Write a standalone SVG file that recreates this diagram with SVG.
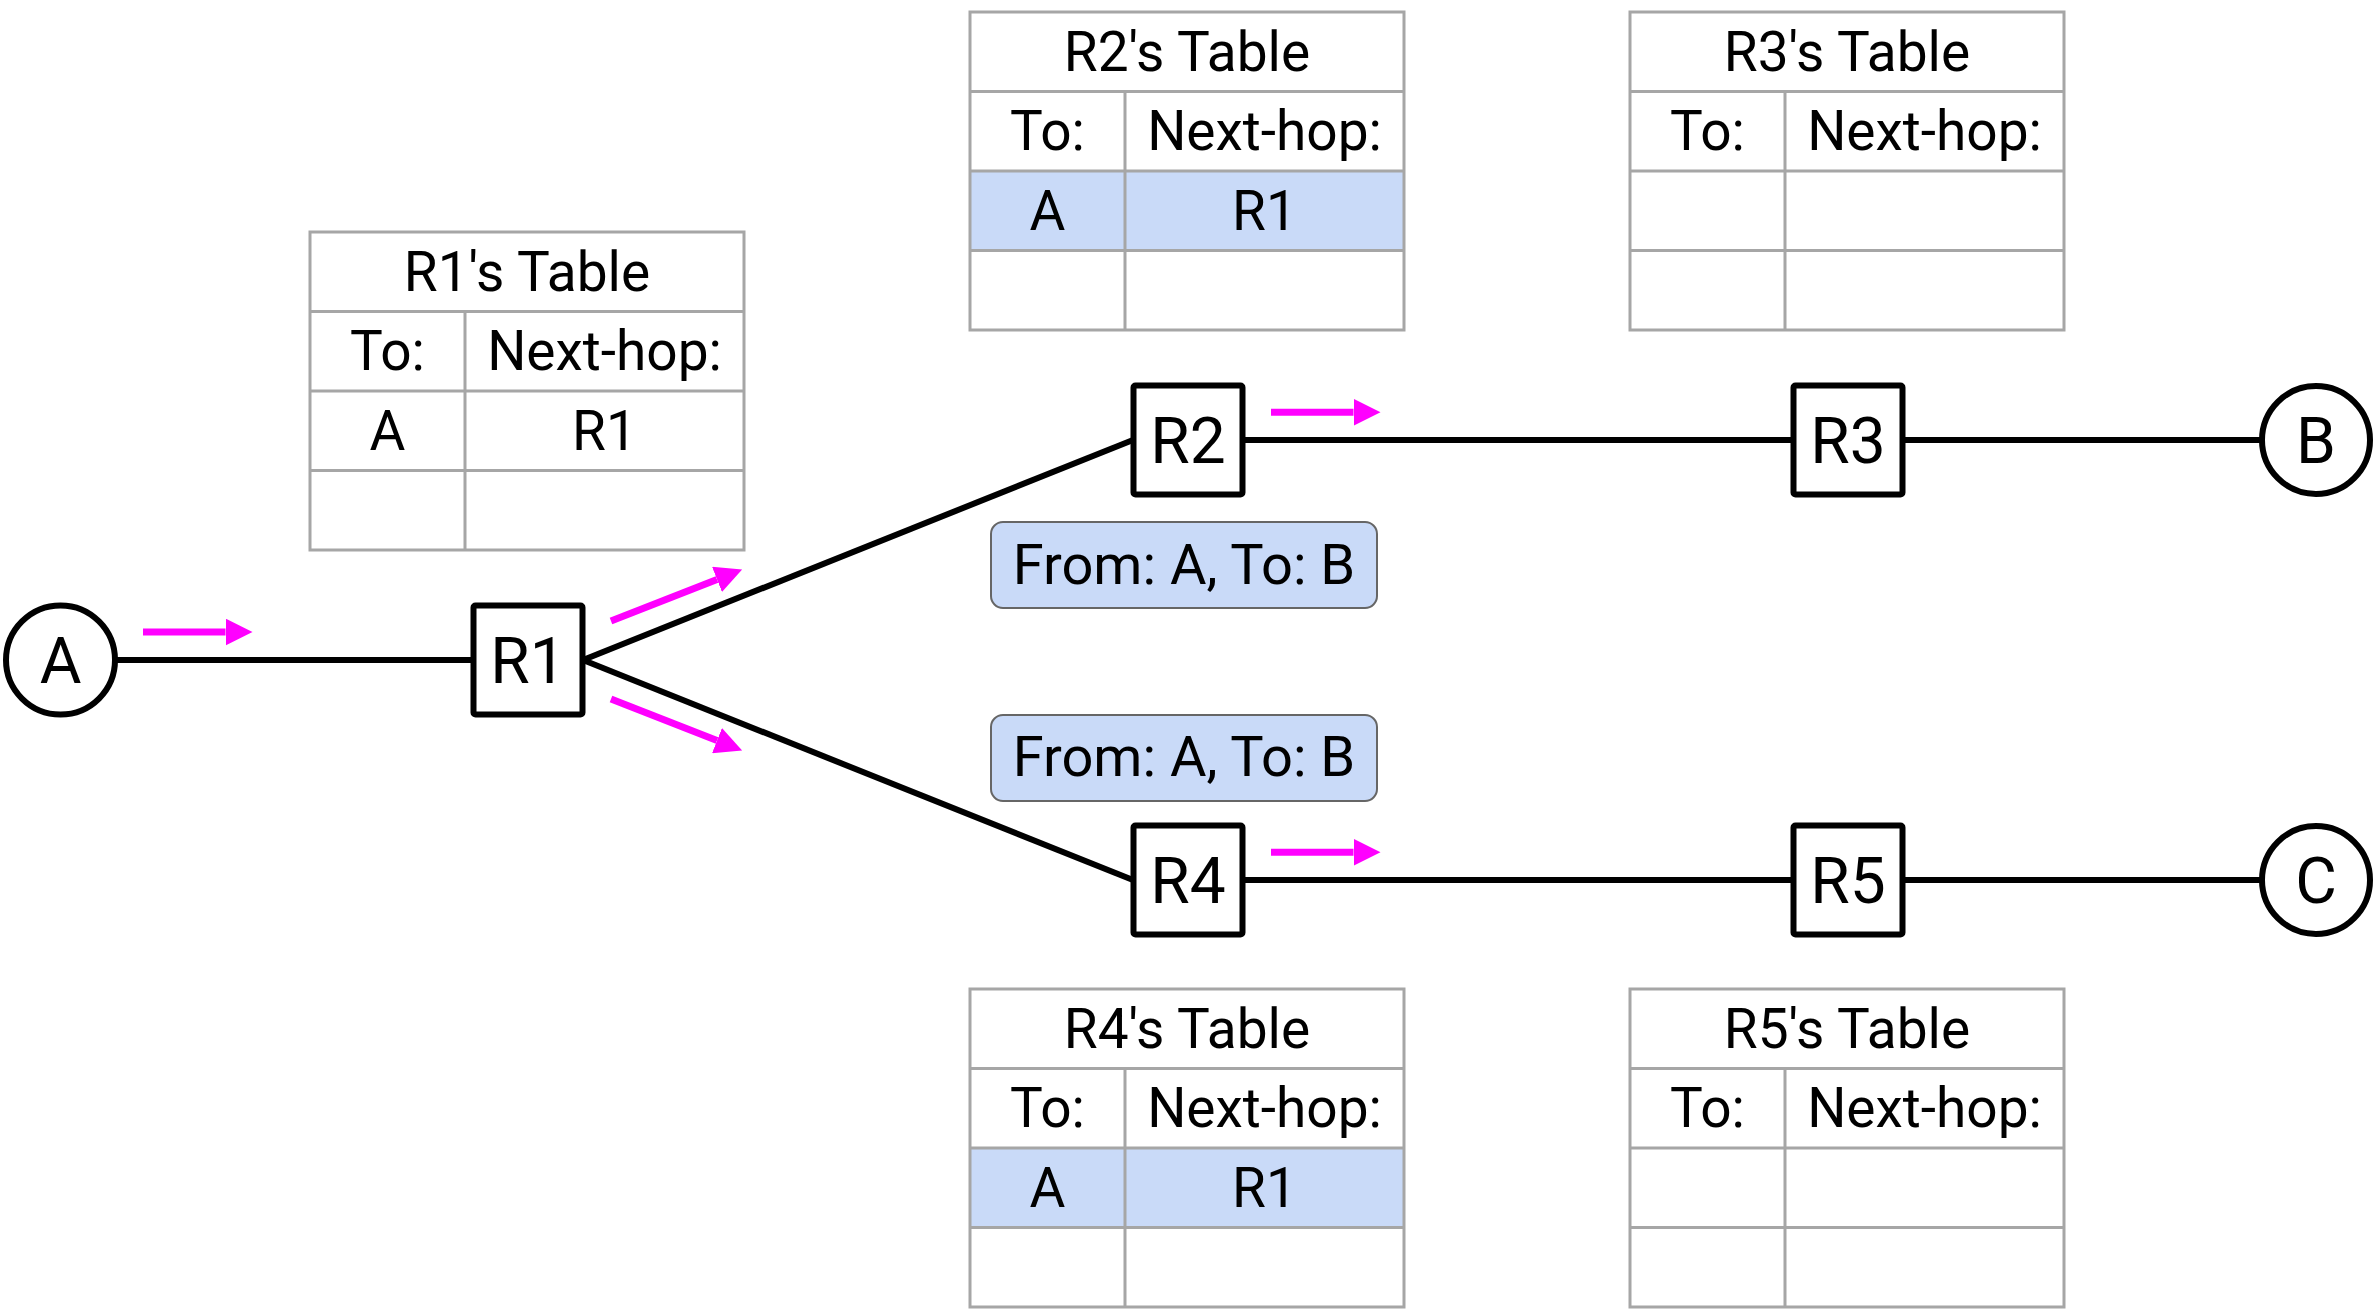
<svg xmlns="http://www.w3.org/2000/svg" width="2374" height="1310" viewBox="0 0 2374 1310">
  <style>
    text { font-family: Roboto, "Liberation Sans", sans-serif; fill: #000; text-anchor: middle; }
    .tbl { fill: none; stroke: #a6a6a6; stroke-width: 3; }
    .tbg { fill: #fff; }
    .hl { fill: #c9daf8; }
    .tt { font-size: 55px; }
    .link { stroke: #000; stroke-width: 6; fill: none; }
    .router { fill: #fff; stroke: #000; stroke-width: 6; }
    .host { fill: #fff; stroke: #000; stroke-width: 6; }
    .lbl { font-size: 64px; }
    .flow { stroke: #ff00ff; stroke-width: 7; fill: none; marker-end: url(#ah); }
    .pkt { fill: #c9daf8; stroke: #666; stroke-width: 2; }
    .pt { font-size: 56px; }
  </style>
  <defs>
    <marker id="ah" markerUnits="userSpaceOnUse" markerWidth="27" markerHeight="27" refX="0" refY="13.5" orient="auto">
      <path d="M0,0 L27,13.5 L0,27 Z" fill="#ff00ff"/>
    </marker>
  </defs>
  <rect width="2374" height="1310" fill="#fff"/>

  <g id="connectors">
    <line class="link" x1="115" y1="660" x2="473" y2="660"/>
    <line class="link" x1="583" y1="660" x2="1133" y2="440"/>
    <line class="link" x1="583" y1="660" x2="1133" y2="880"/>
    <line class="link" x1="1243" y1="440" x2="1793" y2="440"/>
    <line class="link" x1="1903" y1="440" x2="2262" y2="440"/>
    <line class="link" x1="1243" y1="880" x2="1793" y2="880"/>
    <line class="link" x1="1903" y1="880" x2="2262" y2="880"/>
  </g>

  <g id="flows">
    <line class="flow" x1="143" y1="632" x2="225.5" y2="632"/>
    <line class="flow" x1="611" y1="621" x2="717" y2="579.4"/>
    <line class="flow" x1="611" y1="699" x2="717" y2="740.6"/>
    <line class="flow" x1="1271" y1="412.3" x2="1353.5" y2="412.3"/>
    <line class="flow" x1="1271" y1="852.3" x2="1353.5" y2="852.3"/>
  </g>

  <g id="A">
    <circle class="host" cx="60.5" cy="660" r="54.5"/>
    <text class="lbl" x="60.5" y="682.5">A</text>
  </g>
  <g id="B">
    <circle class="host" cx="2316" cy="440" r="54"/>
    <text class="lbl" x="2316" y="462.5">B</text>
  </g>
  <g id="C">
    <circle class="host" cx="2316" cy="880" r="54"/>
    <text class="lbl" x="2316" y="902.5">C</text>
  </g>

  <g id="R1">
    <rect class="router" x="473.5" y="605.5" width="109" height="109" rx="2"/>
    <text class="lbl" x="528" y="682.5">R1</text>
  </g>
  <g id="R2">
    <rect class="router" x="1133.5" y="385.5" width="109" height="109" rx="2"/>
    <text class="lbl" x="1188" y="462.5">R2</text>
  </g>
  <g id="R3">
    <rect class="router" x="1793.5" y="385.5" width="109" height="109" rx="2"/>
    <text class="lbl" x="1848" y="462.5">R3</text>
  </g>
  <g id="R4">
    <rect class="router" x="1133.5" y="825.5" width="109" height="109" rx="2"/>
    <text class="lbl" x="1188" y="902.5">R4</text>
  </g>
  <g id="R5">
    <rect class="router" x="1793.5" y="825.5" width="109" height="109" rx="2"/>
    <text class="lbl" x="1848" y="902.5">R5</text>
  </g>

  <g id="packet1">
    <rect class="pkt" x="991" y="522" width="386" height="86" rx="12"/>
    <text class="pt" x="1184" y="583.5">From: A, To: B</text>
  </g>
  <g id="packet2">
    <rect class="pkt" x="991" y="715" width="386" height="86" rx="12"/>
    <text class="pt" x="1184" y="776">From: A, To: B</text>
  </g>

  <g id="R1-table" transform="translate(310,232)">
    <rect class="tbg" width="434" height="318"/>
    <path class="tbl" d="M0,0 H434 V318 H0 Z M0,79.5 H434 M0,159 H434 M0,238.5 H434 M155,79.5 V318"/>
    <text class="tt" x="217" y="58.7">R1's Table</text>
    <text class="tt" x="77.5" y="138.2">To:</text>
    <text class="tt" x="294.5" y="138.2">Next-hop:</text>
    <text class="tt" x="77.5" y="217.7">A</text>
    <text class="tt" x="294.5" y="217.7">R1</text>
  </g>
  <g id="R2-table" transform="translate(970,12)">
    <rect class="tbg" width="434" height="318"/>
    <rect class="hl" x="0" y="159" width="434" height="79.5"/>
    <path class="tbl" d="M0,0 H434 V318 H0 Z M0,79.5 H434 M0,159 H434 M0,238.5 H434 M155,79.5 V318"/>
    <text class="tt" x="217" y="58.7">R2's Table</text>
    <text class="tt" x="77.5" y="138.2">To:</text>
    <text class="tt" x="294.5" y="138.2">Next-hop:</text>
    <text class="tt" x="77.5" y="217.7">A</text>
    <text class="tt" x="294.5" y="217.7">R1</text>
  </g>
  <g id="R3-table" transform="translate(1630,12)">
    <rect class="tbg" width="434" height="318"/>
    <path class="tbl" d="M0,0 H434 V318 H0 Z M0,79.5 H434 M0,159 H434 M0,238.5 H434 M155,79.5 V318"/>
    <text class="tt" x="217" y="58.7">R3's Table</text>
    <text class="tt" x="77.5" y="138.2">To:</text>
    <text class="tt" x="294.5" y="138.2">Next-hop:</text>
  </g>
  <g id="R4-table" transform="translate(970,989)">
    <rect class="tbg" width="434" height="318"/>
    <rect class="hl" x="0" y="159" width="434" height="79.5"/>
    <path class="tbl" d="M0,0 H434 V318 H0 Z M0,79.5 H434 M0,159 H434 M0,238.5 H434 M155,79.5 V318"/>
    <text class="tt" x="217" y="58.7">R4's Table</text>
    <text class="tt" x="77.5" y="138.2">To:</text>
    <text class="tt" x="294.5" y="138.2">Next-hop:</text>
    <text class="tt" x="77.5" y="217.7">A</text>
    <text class="tt" x="294.5" y="217.7">R1</text>
  </g>
  <g id="R5-table" transform="translate(1630,989)">
    <rect class="tbg" width="434" height="318"/>
    <path class="tbl" d="M0,0 H434 V318 H0 Z M0,79.5 H434 M0,159 H434 M0,238.5 H434 M155,79.5 V318"/>
    <text class="tt" x="217" y="58.7">R5's Table</text>
    <text class="tt" x="77.5" y="138.2">To:</text>
    <text class="tt" x="294.5" y="138.2">Next-hop:</text>
  </g>
</svg>
